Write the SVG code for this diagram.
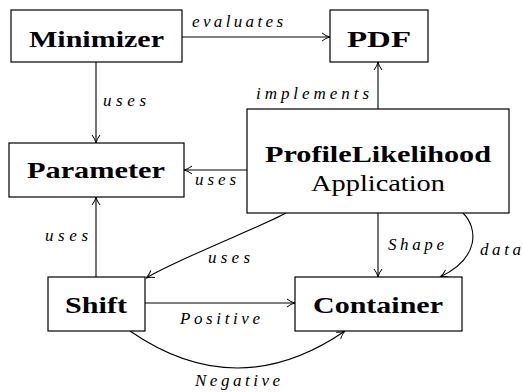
<svg xmlns="http://www.w3.org/2000/svg" width="523" height="392" viewBox="0 0 523 392">
<defs>
<marker id="arr" markerWidth="10" markerHeight="10" refX="9" refY="5" orient="auto" markerUnits="userSpaceOnUse">
<path d="M1,1 Q5,4.2 9,5 Q5,5.8 1,9" fill="none" stroke="#000" stroke-width="1"/>
</marker>
</defs>
<style>
.box{fill:#fff;stroke:#000;stroke-width:1.2}
.bt{font-family:"Liberation Serif","Times New Roman",serif;font-weight:bold;font-size:24px;text-anchor:middle;fill:#000}
.rt{font-family:"Liberation Serif","Times New Roman",serif;font-size:24px;text-anchor:middle;fill:#000}
.lb{font-family:"Liberation Serif","Times New Roman",serif;font-style:italic;font-size:17px;fill:#000}
.cn{fill:none;stroke:#000;stroke-width:1.1;marker-end:url(#arr)}
</style>
<rect width="523" height="392" fill="#fff"/>
<g id="connectors">
<path class="cn" d="M182,37 L330,37"/>
<path class="cn" d="M96,62 L96,143"/>
<path class="cn" d="M378,109 L378,62"/>
<path class="cn" d="M247,170 L184,170"/>
<path class="cn" d="M96,277 L96,197"/>
<path class="cn" d="M286,213 C265,225 180,258 146,278"/>
<path class="cn" d="M378,213 L378,277"/>
<path class="cn" d="M463,213 C478,228 480,258 440,277"/>
<path class="cn" d="M145,303 L295,303"/>
<path class="cn" d="M130,331 Q237,405 345,331"/>
<text class="lb" x="192" y="27" textLength="91">evaluates</text>
<text class="lb" x="103" y="106" textLength="43">uses</text>
<text class="lb" x="256" y="99" textLength="113">implements</text>
<text class="lb" x="195" y="185" textLength="41">uses</text>
<text class="lb" x="45" y="241" textLength="43">uses</text>
<text class="lb" x="388" y="250" textLength="56">Shape</text>
<text class="lb" x="480" y="255" textLength="41">data</text>
<text class="lb" x="208" y="263" textLength="42">uses</text>
<text class="lb" x="180" y="324" textLength="80">Positive</text>
<text class="lb" x="195" y="386" textLength="85">Negative</text>
</g>
<g id="minimizer">
<rect class="box" x="11" y="10" width="171" height="52"/>
<text class="bt" x="96.5" y="47" textLength="135" lengthAdjust="spacingAndGlyphs">Minimizer</text>
</g>
<g id="pdf">
<rect class="box" x="330" y="10" width="98" height="52"/>
<text class="bt" x="379" y="47" textLength="64" lengthAdjust="spacingAndGlyphs">PDF</text>
</g>
<g id="parameter">
<rect class="box" x="9" y="143" width="175" height="54"/>
<text class="bt" x="96" y="178" textLength="138" lengthAdjust="spacingAndGlyphs">Parameter</text>
</g>
<g id="profilelikelihood">
<rect class="box" x="247" y="109" width="262" height="104"/>
<text class="bt" x="378" y="162" textLength="226" lengthAdjust="spacingAndGlyphs">ProfileLikelihood</text>
<text class="rt" x="378" y="191" textLength="134" lengthAdjust="spacingAndGlyphs">Application</text>
</g>
<g id="shift">
<rect class="box" x="48" y="277" width="97" height="54"/>
<text class="bt" x="96" y="313" textLength="62" lengthAdjust="spacingAndGlyphs">Shift</text>
</g>
<g id="container">
<rect class="box" x="295" y="277" width="167" height="54"/>
<text class="bt" x="378" y="313" textLength="130" lengthAdjust="spacingAndGlyphs">Container</text>
</g>
</svg>
